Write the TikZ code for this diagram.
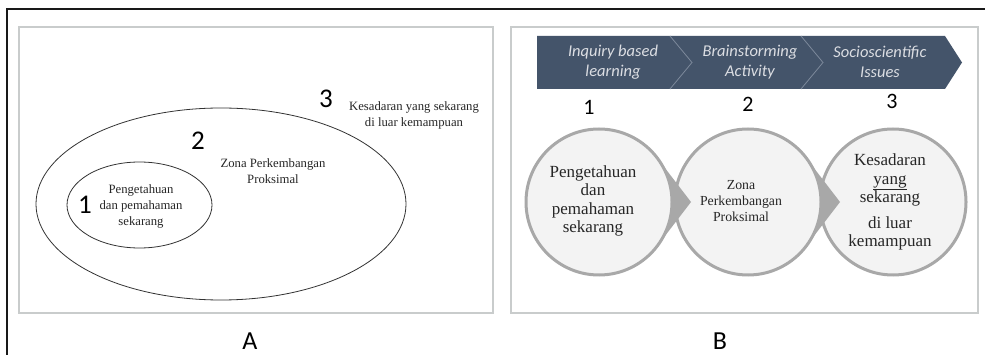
\documentclass[tikz,border=0pt]{standalone}
\usepackage{fontspec}
\setmainfont{Liberation Serif}
\newfontfamily\carl{Carlito}
\usetikzlibrary{shapes.geometric,calc}
\definecolor{slate}{HTML}{44546A}
\definecolor{ringgray}{HTML}{A8A8A8}
\definecolor{discfill}{HTML}{F3F3F3}
\definecolor{panelline}{HTML}{C9CCCC}
\definecolor{bannertext}{HTML}{DCDEE3}
\definecolor{divider}{HTML}{7D899B}
\newcommand{\fsz}[2]{\fontsize{#1}{#2}\selectfont}
\tikzset{
  panel/.style={draw=panelline, line width=1.2pt, fill=white, inner sep=0pt},
  zone/.style={draw=black!80, line width=0.8pt, ellipse, inner sep=0pt},
  bignum/.style={font=\carl\fsz{27}{27}, inner sep=0pt},
  stepnum/.style={font=\carl\fsz{22}{22}, inner sep=0pt},
  smalltxt/.style={font=\fsz{12.7}{16}, align=center, inner sep=0pt, text=black!85},
  disc/.style={circle, draw=ringgray, line width=3pt, fill=discfill, minimum size=146pt, inner sep=0pt},
  disctxt/.style={font=\fsz{17}{18.5}, align=center, inner sep=0pt, text=black!85},
  bantxt/.style={font=\carl\itshape\fsz{16.5}{20}, align=center, inner sep=0pt, text=bannertext},
  caption/.style={font=\carl\fsz{26}{26}, inner sep=0pt, anchor=base},
  wedge/.style={fill=ringgray}
}
\begin{document}
\begin{tikzpicture}[x=1pt,y=-1pt]
\useasboundingbox (0,0) rectangle (985,355);
% outer frame
\draw[line width=1.6pt, black!90] (7,355) -- (7,9) -- (985,9);

% ---------- panel A: nested zones ----------
\node[panel, minimum width=474pt, minimum height=286pt] (pA) at (256,170) {};
\node[zone, minimum width=370pt, minimum height=192pt] (outer) at (221,204) {};
\node[zone, minimum width=145pt, minimum height=86pt] (inner) at (139.5,205) {};
\node[bignum] (a1) at (85,205) {1};
\node[smalltxt] (ta1) at (141,206) {Pengetahuan\\dan pemahaman\\sekarang};
\node[bignum] (a2) at (198,141) {2};
\node[smalltxt] (ta2) at (273,171) {Zona Perkembangan\\Proksimal};
\node[bignum] (a3) at (326,99) {3};
\node[smalltxt] (ta3) at (414,115) {Kesadaran yang sekarang\\di luar kemampuan};
\node[caption] (capA) at (250,349) {A};

% ---------- panel B: process ----------
\node[panel, minimum width=467pt, minimum height=286pt] (pB) at (744.5,170) {};
% chevron banner
\fill[slate] (537,36) -- (945,36) -- (962,62.5) -- (945,89) -- (537,89) -- cycle;
\coordinate (d1t) at (670,36);
\coordinate (d1m) at (692,62.5);
\coordinate (d1b) at (670,89);
\coordinate (d2t) at (801,36);
\coordinate (d2m) at (823,62.5);
\coordinate (d2b) at (801,89);
\draw[divider, line width=0.8pt] (d1t) -- (d1m) -- (d1b);
\draw[divider, line width=0.8pt] (d2t) -- (d2m) -- (d2b);
\node[bantxt] (s1) at (613,62) {Inquiry based\\learning};
\node[bantxt] (s2) at (750,62) {Brainstorming\\Activity};
\node[bantxt] (s3) at (880,62) {Socioscientific\\Issues};

\node[stepnum] (n1) at (589,107) {1};
\node[stepnum] (n2) at (748,104) {2};
\node[stepnum] (n3) at (892,101) {3};

% discs with pointed wedges (tip 92pt from centre, tangent at 37.5 deg)
\node[disc] (c3) at (893,202) {};
\coordinate (tip2) at (840,202);
\fill[wedge] (tip2) -- ($(748,202)+(37.5:73)$) -- ($(748,202)+(-37.5:73)$) -- cycle;
\node[disc] (c2) at (748,202) {};
\coordinate (tip1) at (691,202);
\fill[wedge] (tip1) -- ($(599,202)+(37.5:73)$) -- ($(599,202)+(-37.5:73)$) -- cycle;
\node[disc] (c1) at (599,202) {};

\node[disctxt] (t1) at (593,201) {Pengetahuan\\dan\\pemahaman\\sekarang};
\node[disctxt, font=\fsz{13.8}{16}] (t2) at (741,201) {Zona\\Perkembangan\\Proksimal};
\node[disctxt] (t3) at (890,202) {Kesadaran\\\underline{yang}\\sekarang\\[7pt]di luar\\kemampuan};

\node[caption] (capB) at (720,349) {B};
\end{tikzpicture}
\end{document}
